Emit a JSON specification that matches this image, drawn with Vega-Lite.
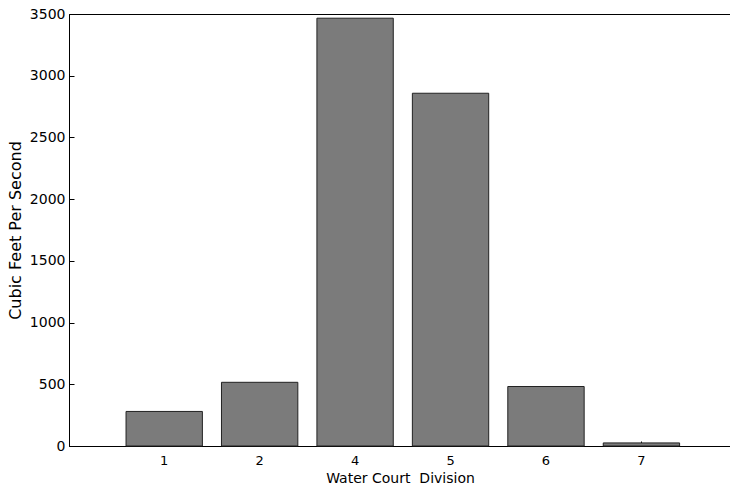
{
  "$schema": "https://vega.github.io/schema/vega-lite/v6.json",
  "width": 662,
  "height": 432,
  "autosize": {"type": "none"},
  "padding": {"left": 69, "top": 14, "right": 0, "bottom": 39},
  "background": "white",
  "config": {
    "view": {"stroke": "black", "strokeWidth": 1},
    "font": "DejaVu Sans",
    "axis": {
      "domainColor": "black",
      "tickColor": "black",
      "labelColor": "black",
      "titleColor": "black",
      "titleFontWeight": "normal",
      "grid": false
    }
  },
  "data": {
    "values": [
      {"division": "1", "cfs": 280},
      {"division": "2", "cfs": 516},
      {"division": "4", "cfs": 3466},
      {"division": "5", "cfs": 2858},
      {"division": "6", "cfs": 482},
      {"division": "7", "cfs": 25}
    ]
  },
  "mark": {"type": "bar", "fill": "#7b7b7b", "stroke": "#222222", "strokeWidth": 1},
  "encoding": {
    "x": {
      "field": "division",
      "type": "ordinal",
      "sort": null,
      "scale": {"paddingInner": 0.2, "paddingOuter": 0.568, "align": 0.526},
      "axis": {
        "title": "Water Court\u00a0 Division",
        "labelAngle": 0,
        "tickSize": -5,
        "labelPadding": 13,
        "labelFontSize": 13,
        "titleFontSize": 14,
        "titlePadding": 4
      }
    },
    "y": {
      "field": "cfs",
      "type": "quantitative",
      "scale": {"domain": [0, 3500], "nice": false},
      "axis": {
        "values": [0, 500, 1000, 1500, 2000, 2500, 3000, 3500],
        "format": "d",
        "tickSize": -5,
        "labelPadding": 9,
        "labelFontSize": 14,
        "title": "Cubic Feet Per Second",
        "titleFontSize": 16,
        "titlePadding": 6
      }
    }
  }
}
